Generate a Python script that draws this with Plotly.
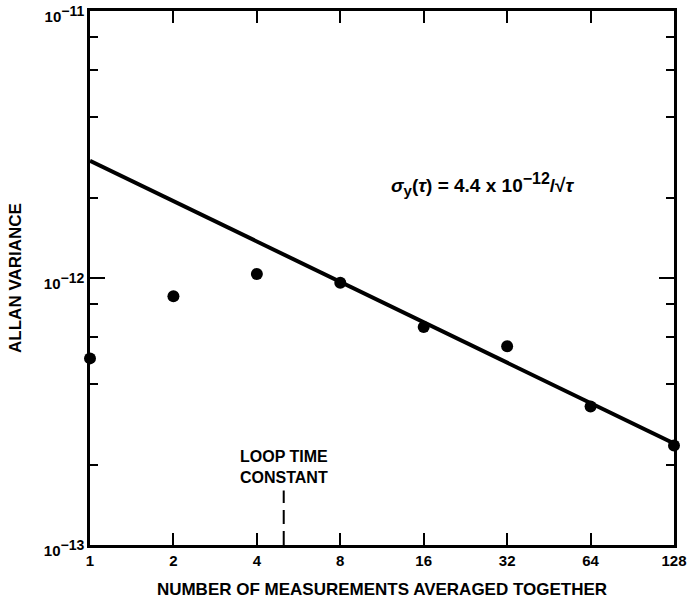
import plotly.graph_objects as go

# ---- data ----
n_avg = [1, 2, 4, 8, 16, 32, 64, 128]
allan = [5.0e-13, 8.55e-13, 1.035e-12, 9.6e-13, 6.55e-13, 5.55e-13, 3.3e-13, 2.36e-13]

fit_x = [1, 128]
fit_y = [2.75e-12, 2.40e-13]

loop_x = [5, 5]
loop_y = [1.0e-13, 1.6e-13]

x_ticks = [1, 2, 4, 8, 16, 32, 64, 128]
x_ticktext = ["1", "2", "4", "8", "16", "32", "64", "128"]
y_ticks = [1e-13, 1e-12, 1e-11]
SUP = "<sup><span style='font-size:14px'>{}</span></sup>"
y_ticktext = ["10" + SUP.format("−13"), "10" + SUP.format("−12"), "10" + SUP.format("−11")]
y_minor = [2e-13, 4e-13, 6e-13, 8e-13, 2e-12, 4e-12, 6e-12, 8e-12]

FONT = "Liberation Sans, Arial, sans-serif"

fig = go.Figure()
fig.add_trace(go.Scatter(x=fit_x, y=fit_y, mode="lines",
                         line=dict(color="black", width=4), hoverinfo="skip"))
fig.add_trace(go.Scatter(x=n_avg, y=allan, mode="markers",
                         marker=dict(color="black", size=12), cliponaxis=False))
fig.add_trace(go.Scatter(x=loop_x, y=loop_y, mode="lines",
                         line=dict(color="black", width=2, dash="14px,7px")))

fig.add_annotation(x=0.69897, y=-12.785, xref="x", yref="y",
                   text="<b>LOOP TIME<br>CONSTANT</b>", showarrow=False,
                   yanchor="bottom", xanchor="center", align="left",
                   font=dict(family=FONT, size=16, color="black"))
fig.add_annotation(x=1.418, y=-11.65, xref="x", yref="y",
                   text="<b><i>σ</i><sub><span style='font-size:15px'>y</span></sub>(<i>τ</i>) = 4.4 x 10"
                        "<sup><span style='font-size:16px'>−12</span></sup>/√<i>τ</i></b>",
                   showarrow=False, xanchor="center", yanchor="middle",
                   font=dict(family=FONT, size=19, color="black"))

fig.update_layout(
    width=687, height=604,
    margin=dict(l=90, r=13, t=11, b=59),
    paper_bgcolor="white", plot_bgcolor="white",
    showlegend=False,
    font=dict(family=FONT, size=15, color="black"),
)
fig.update_xaxes(
    type="log", range=[0, 2.10721], tickmode="array",
    tickvals=x_ticks, ticktext=x_ticktext, automargin=False,
    ticklabeloverflow="allow",
    ticks="inside", ticklen=12, tickwidth=2, tickcolor="black",
    showline=True, linewidth=2.5, linecolor="black", mirror="ticks",
    showgrid=False, zeroline=False,
    tickfont=dict(family=FONT, size=15, weight="bold"),
    title=dict(text="NUMBER OF MEASUREMENTS AVERAGED TOGETHER",
               font=dict(family=FONT, size=17, weight="bold"), standoff=16),
)
fig.update_yaxes(
    type="log", range=[-13, -11], tickmode="array",
    tickvals=y_ticks, ticktext=y_ticktext, automargin=False,
    ticklabeloverflow="allow", ticklabelshift=6,
    ticks="inside", ticklen=15, tickwidth=2, tickcolor="black",
    minor=dict(tickmode="array", tickvals=y_minor, ticks="inside",
               ticklen=8, tickwidth=2, tickcolor="black", showgrid=False),
    showline=True, linewidth=2.5, linecolor="black", mirror="ticks",
    showgrid=False, zeroline=False,
    tickfont=dict(family=FONT, size=15, weight="bold"),
    title=dict(text="ALLAN VARIANCE", font=dict(family=FONT, size=17, weight="bold"), standoff=18),
)

fig.write_html("out.html", config={"displayModeBar": False},
               post_script="document.body.style.margin='0';")
